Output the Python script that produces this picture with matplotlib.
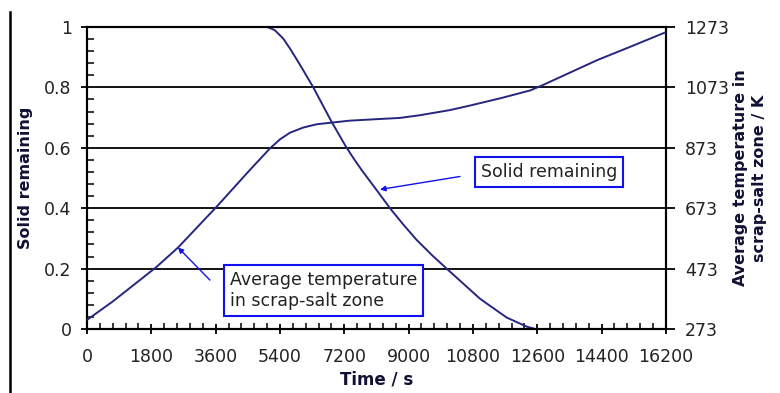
# 스크랩-염 영역: 고체 잔량 / 평균 온도 시간 변화 차트

import matplotlib
matplotlib.use("Agg")
import matplotlib.pyplot as plt
from matplotlib.lines import Line2D
from matplotlib.ticker import MultipleLocator
import numpy as np

# ─ 데이터
time_solid = [0, 5040, 5250, 5490, 5700, 5960, 6333, 6845, 7240, 7470, 7700, 8130, 8478,
              8850, 9224, 9650, 10063, 11000, 11743, 12303, 12550, 16200]
solid_remaining = [1.0, 1.0, 0.99, 0.962, 0.925, 0.875, 0.80, 0.686, 0.605, 0.563, 0.524, 0.456, 0.40,
                   0.346, 0.295, 0.245, 0.20, 0.10, 0.038, 0.008, 0.0, 0.0]

time_temp = [0, 730, 1950, 2550, 3628, 4561, 5120, 5400, 5680, 6050, 6427, 6893, 7360,
             8760, 9320, 10160, 10720, 11600, 12400, 12760, 14270, 15190, 16200]
avg_temp_K = [303, 365, 479, 543, 678, 800, 871, 901, 923, 940, 951, 957, 963,
              972, 981, 998, 1013, 1038, 1063, 1081, 1163, 1207, 1256]

x_ticks = np.arange(0, 16201, 1800)
left_ticks = [0, 0.2, 0.4, 0.6, 0.8, 1]
left_tick_labels = ["0", "0.2", "0.4", "0.6", "0.8", "1"]
right_ticks = [273, 473, 673, 873, 1073, 1273]

LINE_COLOR = "#262680"
BOX_COLOR = "#1010f0"
TEXT_COLOR = "#222222"
FS = 12.5

fig = plt.figure(figsize=(7.8, 3.93), dpi=100)
ax = fig.add_axes([0.1115, 0.1628, 0.7423, 0.7685])

# ─ 왼쪽 축: 고체 잔량
ax.plot(time_solid, solid_remaining, color=LINE_COLOR, lw=1.4, zorder=3)
ax.set_xlim(0, 16200)
ax.set_ylim(0, 1)
ax.set_xticks(x_ticks)
ax.set_xticklabels([str(t) for t in x_ticks])
ax.xaxis.set_minor_locator(MultipleLocator(360))
ax.set_yticks(left_ticks)
ax.set_yticklabels(left_tick_labels)
ax.yaxis.set_minor_locator(MultipleLocator(0.04))
ax.grid(axis="y", which="major", color="black", lw=1.3, zorder=1)
ax.set_axisbelow(True)

ax.tick_params(axis="x", which="major", direction="inout", length=7.5, width=1.3,
               pad=10, labelsize=FS, labelcolor=TEXT_COLOR)
ax.tick_params(axis="x", which="minor", direction="in", length=4.5, width=1.1)
ax.tick_params(axis="y", which="major", direction="out", length=4, width=1.3,
               pad=7, labelsize=FS, labelcolor=TEXT_COLOR)
ax.tick_params(axis="y", which="minor", direction="in", length=5, width=1.1)

for side in ["left", "bottom", "right", "top"]:
    ax.spines[side].set_linewidth(1.5)
    ax.spines[side].set_color("black")

ax.set_xlabel("Time / s", fontsize=12, fontweight="bold", color="#111133", labelpad=3)
ax.set_ylabel("Solid remaining", fontsize=11.5, fontweight="bold", color="#111133")
ax.yaxis.set_label_coords(-0.093, 0.5)

# ─ 오른쪽 축: 평균 온도
ax2 = ax.twinx()
ax2.plot(time_temp, avg_temp_K, color=LINE_COLOR, lw=1.4, zorder=3)
ax2.set_ylim(273, 1273)
ax2.set_yticks(right_ticks)
ax2.tick_params(axis="y", which="major", direction="out", length=6.5, width=1.3,
                pad=7, labelsize=FS, labelcolor=TEXT_COLOR)
for side in ["left", "bottom", "right", "top"]:
    ax2.spines[side].set_linewidth(1.5)
ax2.set_ylabel("Average temperature in\nscrap-salt zone / K", fontsize=11.5,
               fontweight="bold", color="#111133", linespacing=1.3)
ax2.yaxis.set_label_coords(1.116, 0.5)

# ─ 설명 상자 + 화살표
arrow_kw = dict(arrowstyle="-|>", color=BOX_COLOR, lw=1.0, mutation_scale=8,
                shrinkA=0, shrinkB=0)
ax.annotate("", xy=(8198, 0.462), xytext=(10436, 0.505), arrowprops=arrow_kw, zorder=5)
ax.text(12927, 0.52, "Solid remaining", fontsize=FS, color=TEXT_COLOR,
        ha="center", va="center", zorder=5,
        bbox=dict(boxstyle="square,pad=0.35", fc="white", ec=BOX_COLOR, lw=1.5))

ax.annotate("", xy=(2546, 0.27), xytext=(3441, 0.162), arrowprops=arrow_kw, zorder=5)
ax.text(4001, 0.1275, "Average temperature\nin scrap-salt zone", fontsize=FS,
        color=TEXT_COLOR, ha="left", va="center", linespacing=1.25, zorder=5,
        bbox=dict(boxstyle="square,pad=0.35", fc="white", ec=BOX_COLOR, lw=1.5))

# 왼쪽 페이지 경계선
fig.add_artist(Line2D([10 / 780, 10 / 780], [0, 1 - 12 / 393], color="black", lw=1.8))

fig.savefig("out.png", dpi=100)
plt.close(fig)
